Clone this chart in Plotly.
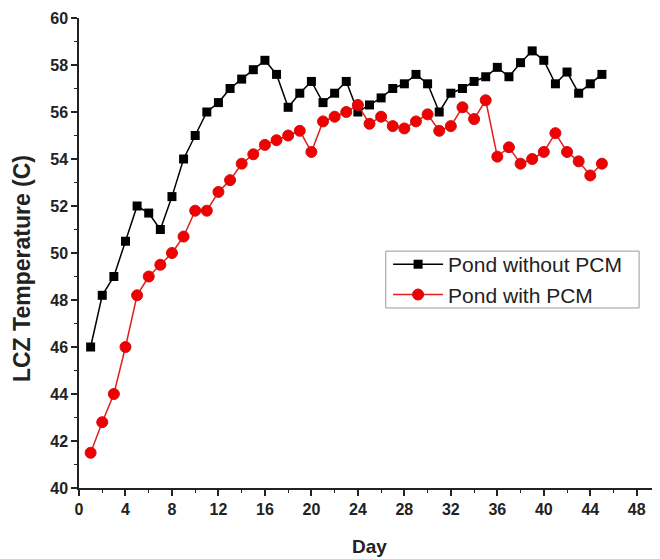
import plotly.graph_objects as go

days = list(range(1, 46))
without_pcm = [46.0, 48.2, 49.0, 50.5, 52.0, 51.7, 51.0, 52.4, 54.0, 55.0,
               56.0, 56.4, 57.0, 57.4, 57.8, 58.2, 57.6, 56.2, 56.8, 57.3,
               56.4, 56.8, 57.3, 56.0, 56.3, 56.6, 57.0, 57.2, 57.6, 57.2,
               56.0, 56.8, 57.0, 57.3, 57.5, 57.9, 57.5, 58.1, 58.6, 58.2,
               57.2, 57.7, 56.8, 57.2, 57.6]
with_pcm = [41.5, 42.8, 44.0, 46.0, 48.2, 49.0, 49.5, 50.0, 50.7, 51.8,
            51.8, 52.6, 53.1, 53.8, 54.2, 54.6, 54.8, 55.0, 55.2, 54.3,
            55.6, 55.8, 56.0, 56.3, 55.5, 55.8, 55.4, 55.3, 55.6, 55.9,
            55.2, 55.4, 56.2, 55.7, 56.5, 54.1, 54.5, 53.8, 54.0, 54.3,
            55.1, 54.3, 53.9, 53.3, 53.8]
x_ticks = list(range(0, 49, 4))
y_ticks = list(range(40, 61, 2))

FONT = "Liberation Sans, Arial, sans-serif"

fig = go.Figure()
fig.add_trace(go.Scatter(
    x=days, y=without_pcm, name="Pond without PCM", mode="lines+markers",
    line=dict(color="black", width=1.5),
    marker=dict(symbol="square", size=9, color="black"),
))
fig.add_trace(go.Scatter(
    x=days, y=with_pcm, name="Pond with PCM", mode="lines+markers",
    line=dict(color="#e0201c", width=1.5),
    marker=dict(symbol="circle", size=11, color="#f00000",
                line=dict(color="#d01010", width=1)),
))

axis_common = dict(
    showgrid=False, zeroline=False, showline=True, linecolor="#222",
    linewidth=1.5, ticks="outside", ticklen=6, tickwidth=1.5, tickcolor="#222",
    tickfont=dict(family=FONT, size=16, color="#222", weight="bold"),
    automargin=False,
)

fig.update_xaxes(
    range=[0, 50], tickvals=x_ticks, title_text="Day", title_standoff=23,
    title_font=dict(family=FONT, size=19, color="#222", weight="bold"),
    minor=dict(dtick=2, ticks="outside", ticklen=3, tickwidth=1.2, tickcolor="#222", tick0=0),
    **axis_common,
)
fig.update_yaxes(
    range=[40, 60], tickvals=y_ticks,
    minor=dict(dtick=1, ticks="outside", ticklen=3, tickwidth=1.2, tickcolor="#222", tick0=40),
    **axis_common,
)

# y-axis title placed as annotation (it sits a little below the plot centre)
fig.add_annotation(
    text="LCZ Temperature (C)", textangle=-90, showarrow=False,
    xref="paper", yref="paper", x=-0.098, y=0.466,
    xanchor="center", yanchor="middle",
    font=dict(family=FONT, size=23, color="#222", weight="bold"),
)

# legend frame
fig.add_shape(
    type="rect", xref="paper", yref="paper",
    x0=0.528, x1=0.964, y0=0.383, y1=0.504,
    line=dict(color="#999", width=1), fillcolor="rgba(0,0,0,0)", layer="above",
)

fig.update_layout(
    width=652, height=551,
    margin=dict(l=71, r=0, t=10, b=71),
    plot_bgcolor="white", paper_bgcolor="white",
    font=dict(family=FONT, color="#222"),
    legend=dict(
        x=0.532, y=0.519, xanchor="left", yanchor="top",
        borderwidth=0, bgcolor="rgba(0,0,0,0)",
        font=dict(family=FONT, size=21, color="#222"),
        itemwidth=50, tracegroupgap=0,
    ),
    showlegend=True,
)

fig.write_html("out.html")
